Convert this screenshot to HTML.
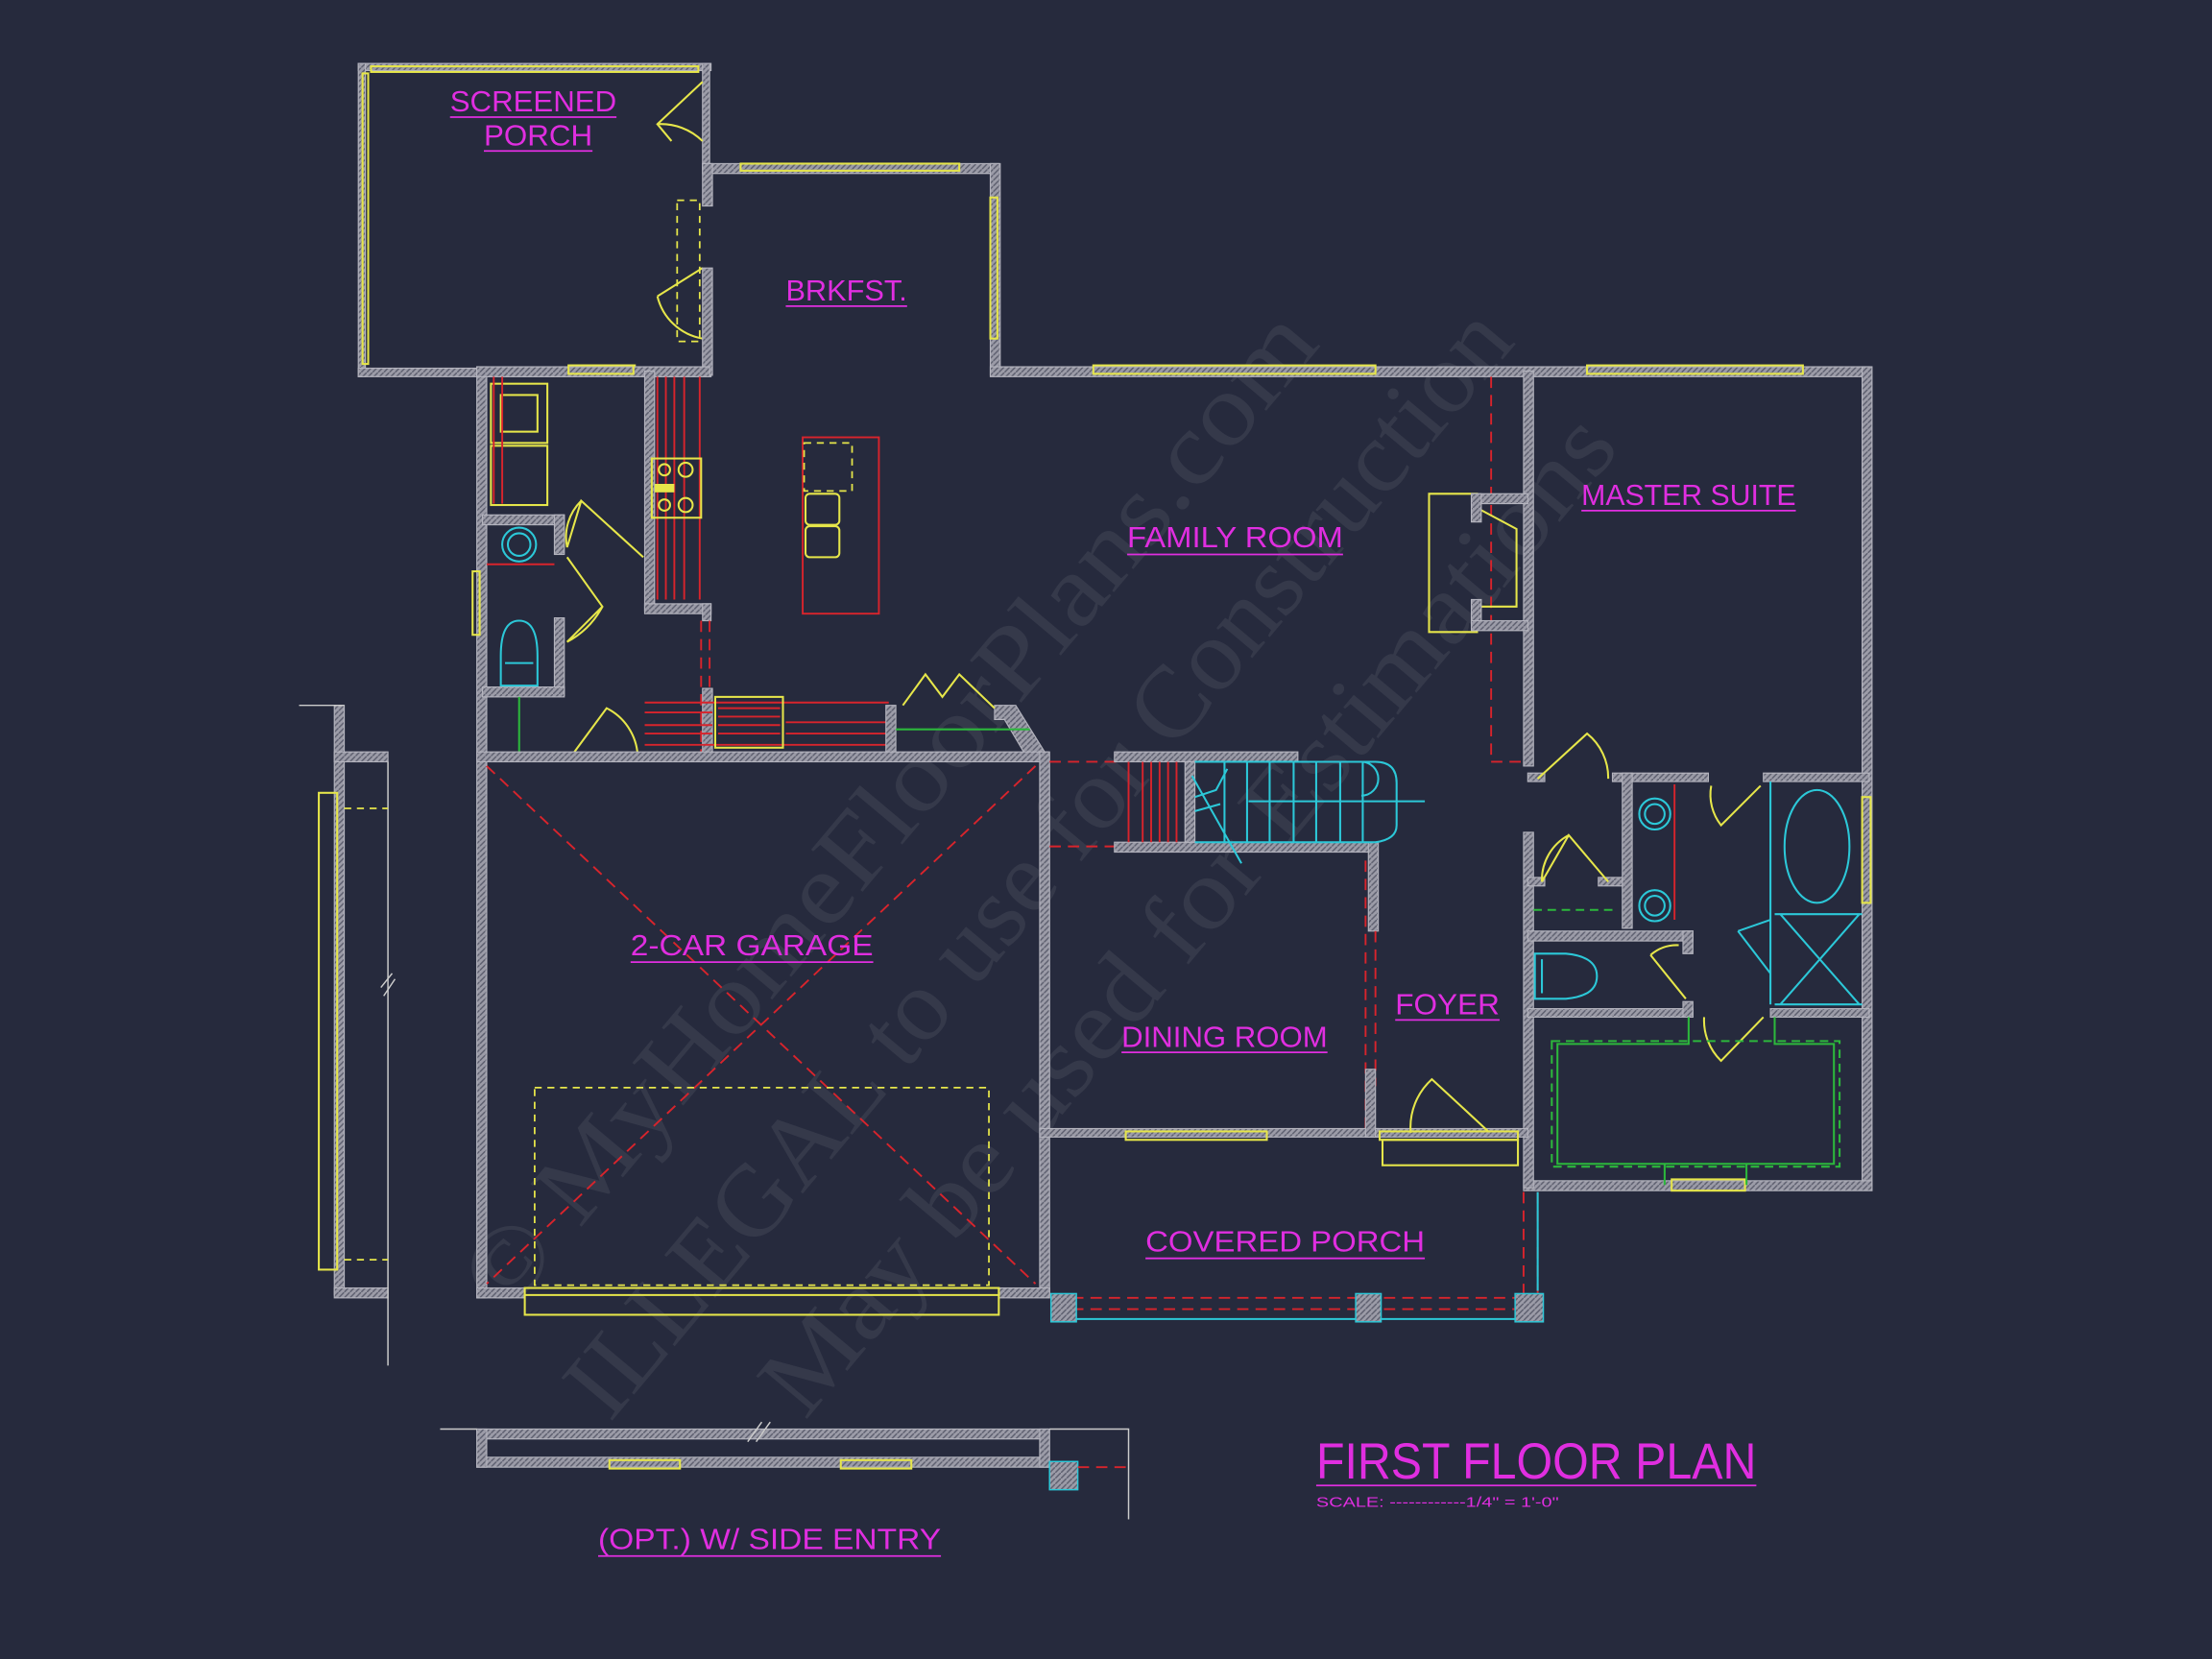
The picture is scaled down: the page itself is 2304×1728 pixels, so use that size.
<!DOCTYPE html>
<html><head><meta charset="utf-8"><style>
html,body{margin:0;padding:0;background:#262a3d;}
svg{display:block}
.w{fill:url(#h);stroke:#b4b4be;stroke-width:.8}
.y{fill:none;stroke:#e6e64a;stroke-width:1.4}
.r{fill:none;stroke:#d8242c;stroke-width:1.3}
.rd{fill:none;stroke:#d8242c;stroke-width:1.3;stroke-dasharray:8 5}
.c{fill:none;stroke:#2cc8d8;stroke-width:1.4}
.g{fill:none;stroke:#2cb83c;stroke-width:1.4}
.gd{fill:none;stroke:#2cb83c;stroke-width:1.4;stroke-dasharray:6 4}
.yd{fill:none;stroke:#e6e64a;stroke-width:1.2;stroke-dasharray:5 4}
.t{fill:#e02ee0;font-family:"Liberation Sans",sans-serif;font-size:21px}
.u{stroke:#e02ee0;stroke-width:1.2}
.wm{fill:#ffffff;fill-opacity:.07;font-family:"Liberation Serif",serif;font-size:72px}
</style></head><body>
<svg width="2304" height="1728" viewBox="0 0 1568 1176" xmlns="http://www.w3.org/2000/svg">
<defs>
<pattern id="h" width="4" height="4" patternUnits="userSpaceOnUse">
<rect width="4" height="4" fill="#9c9ca8"/><path d="M0 4L4 0" stroke="#5c5e6e" stroke-width="1"/>
</pattern>
</defs>
<rect width="1568" height="1176" fill="#262a3d"/>

<!-- watermark -->
<g transform="rotate(-50 700 620)">
<text class="wm" x="240" y="560" textLength="900" lengthAdjust="spacingAndGlyphs">© MyHomeFloorPlans.com</text>
<text class="wm" x="230" y="665" textLength="1000" lengthAdjust="spacingAndGlyphs">ILLEGAL to use for Construction</text>
<text class="wm" x="320" y="770" textLength="900" lengthAdjust="spacingAndGlyphs">May be used for Estimations</text>
</g>

<!-- screened porch -->
<rect class="w" x="254" y="45" width="250" height="5"/>
<rect class="w" x="254" y="45" width="5" height="222"/>
<rect class="w" x="254" y="261" width="250" height="6"/>
<rect class="w" x="498" y="45" width="5" height="75"/>
<rect class="y" x="257" y="52" width="4" height="206"/>
<rect class="y" x="263" y="47" width="232" height="4"/>
<rect class="y" x="404" y="259" width="46" height="4"/>
<path class="y" d="M498 58 L466 88 L476 100 M466 88 A42 42 0 0 1 498 100"/>
<path class="y" d="M498 190 L466 210 M466 210 A40 40 0 0 0 498 240"/>
<rect class="yd" x="480" y="142" width="16" height="100"/>

<!-- breakfast -->
<rect class="w" x="498" y="116" width="210" height="7"/>
<rect class="w" x="702" y="116" width="7" height="150"/>
<rect class="w" x="498" y="116" width="7" height="30"/>
<rect class="w" x="498" y="190" width="7" height="76"/>
<rect class="y" x="525" y="116" width="155" height="5"/>
<rect class="y" x="702" y="140" width="5" height="100"/>

<!-- main outer walls -->
<rect class="w" x="702" y="260" width="623" height="7"/>
<rect class="y" x="775" y="259" width="200" height="6"/>
<rect class="y" x="1125" y="259" width="153" height="6"/>
<rect class="w" x="1320" y="260" width="7" height="583"/>
<rect class="y" x="1320" y="565" width="6" height="75"/>
<rect class="w" x="1080" y="837" width="247" height="7"/>
<rect class="y" x="1185" y="836" width="52" height="8"/>
<rect class="w" x="1080" y="263" width="7" height="280"/>
<rect class="w" x="1080" y="590" width="7" height="252"/>
<rect class="w" x="338" y="260" width="7" height="660"/>
<rect class="w" x="338" y="260" width="165" height="7"/>
<rect class="y" x="403" y="259" width="46" height="6"/>
<rect class="y" x="335" y="405" width="5" height="45"/>

<!-- laundry / kitchen walls -->
<rect class="w" x="457" y="263" width="7" height="170"/>
<rect class="w" x="457" y="428" width="47" height="7"/>
<rect class="w" x="498" y="428" width="6" height="12"/>
<rect class="w" x="342" y="365" width="58" height="7"/>
<rect class="w" x="393" y="365" width="7" height="28"/>
<rect class="w" x="393" y="438" width="7" height="55"/>
<rect class="w" x="342" y="487" width="58" height="7"/>
<rect class="y" x="348" y="272" width="40" height="42"/><rect class="y" x="355" y="280" width="26" height="26"/>
<rect class="y" x="348" y="316" width="40" height="42"/>
<path class="r" d="M350 267V357 M356 267V357 M345 400H393"/>
<path class="r" d="M466 267V425 M472 267V425 M478 267V425 M485 267V425 M496 267V425"/>
<rect class="y" x="462" y="325" width="35" height="42" fill="#3a2a30"/>
<circle class="y" cx="471" cy="333" r="4"/><circle class="y" cx="486" cy="333" r="5"/>
<circle class="y" cx="471" cy="358" r="4"/><circle class="y" cx="486" cy="358" r="5"/>
<rect x="464" y="343" width="14" height="6" fill="#e6e64a"/>
<path class="y" d="M402 388 L412 355 L456 395 M402 388 A36 36 0 0 1 412 355"/>
<path class="y" d="M402 395 L427 430 L402 455 A60 60 0 0 0 427 430"/>
<circle class="c" cx="368" cy="386" r="12"/><circle class="c" cx="368" cy="386" r="8"/>
<path class="c" d="M355 486 V465 Q355 440 368 440 Q381 440 381 465 V486 Z M358 470 H378"/>
<path class="g" d="M368 494V535"/>

<!-- island -->
<rect class="r" x="569" y="310" width="54" height="125"/>
<rect class="yd" x="570" y="314" width="34" height="34"/>
<rect class="y" x="571" y="350" width="24" height="22" rx="3"/>
<rect class="y" x="571" y="373" width="24" height="22" rx="3"/>
<path class="rd" d="M497 440V535 M503 440V535"/>

<!-- kitchen bottom counter -->
<rect class="w" x="498" y="488" width="7" height="48"/>
<path class="r" d="M457 498H630 M457 528H630 M457 514H505 M457 520H505 M457 505H505 M557 512H630 M557 520H630"/>
<rect class="y" x="507" y="494" width="48" height="36" stroke-width="2.2"/>
<path class="r" d="M509 502H553 M509 508H553 M509 514H553 M509 520H553"/>
<rect class="w" x="628" y="500" width="7" height="37"/>
<path class="w" d="M705 500 L720 500 L743 537 L728 537 L712 510 L705 510Z"/>
<path class="y" d="M640 500 L656 478 L668 494 L680 478 L705 502"/>
<path class="g" d="M635 517H730"/>
<path class="y" d="M402 540 L430 502 A40 40 0 0 1 452 540"/>

<!-- garage -->
<rect class="w" x="338" y="533" width="405" height="7"/>
<rect class="w" x="737" y="533" width="7" height="385"/>
<rect class="w" x="338" y="913" width="34" height="7"/>
<rect class="w" x="708" y="913" width="36" height="7"/>
<rect class="y" x="372" y="913" width="336" height="19"/>
<path class="y" d="M372 918H708"/>
<path class="rd" d="M345 543 L734 910 M734 543 L345 910"/>
<rect class="yd" x="379" y="771" width="322" height="140"/>

<!-- stairs / family -->
<path class="rd" d="M744 540H795 M744 600H795 M1057 267V540H1080"/>
<rect class="w" x="790" y="533" width="130" height="7"/>
<rect class="w" x="790" y="597" width="185" height="7"/>
<rect class="w" x="970" y="597" width="7" height="63"/>
<path class="r" d="M800 540V597 M810 540V597 M816 540V597 M822 540V597 M828 540V597 M834 540V597"/>
<rect class="w" x="840" y="540" width="7" height="57"/>
<path class="c" d="M847 540H975 M847 597H975 M868 540V597 M884 540V597 M900 540V597 M917 540V597 M933 540V597 M950 540V597 M966 540V597 M885 568H1010 M845 550 L880 612 M965 540 A12 12 0 0 1 965 564 M975 540 Q990 540 990 555 V585 Q990 595 975 597"/>
<path class="c" d="M847 565 L862 560 L870 545 M847 575 L865 570"/>
<path class="rd" d="M968 610V800 M975 660V770"/>

<!-- fireplace -->
<path class="y" d="M1013 350H1047 V360 L1075 375 V430 H1047 V448 H1013 Z"/>
<rect class="w" x="1043" y="350" width="40" height="7"/>
<rect class="w" x="1043" y="350" width="7" height="20"/>
<rect class="w" x="1043" y="425" width="7" height="18"/>
<rect class="w" x="1043" y="440" width="40" height="7"/>

<!-- dining/foyer -->
<rect class="w" x="737" y="800" width="240" height="6"/>
<rect class="y" x="798" y="802" width="100" height="6"/>
<rect class="w" x="968" y="758" width="7" height="48"/>
<rect class="w" x="975" y="800" width="108" height="6"/>
<rect class="y" x="978" y="802" width="98" height="6"/>
<rect class="y" x="980" y="808" width="96" height="18"/>
<path class="y" d="M1000 803 A46 46 0 0 1 1015 765 L1055 802"/>

<!-- master bath walls -->
<rect class="w" x="1083" y="548" width="12" height="6"/>
<rect class="w" x="1143" y="548" width="68" height="6"/>
<rect class="w" x="1250" y="548" width="75" height="6"/>
<rect class="w" x="1150" y="548" width="7" height="110"/>
<rect class="w" x="1083" y="660" width="117" height="7"/>
<rect class="w" x="1193" y="660" width="7" height="16"/>
<rect class="w" x="1083" y="622" width="12" height="6"/>
<rect class="w" x="1133" y="622" width="17" height="6"/>
<rect class="w" x="1083" y="715" width="117" height="6"/>
<rect class="w" x="1193" y="710" width="7" height="11"/>
<rect class="w" x="1255" y="715" width="70" height="6"/>
<path class="y" d="M1090 552 L1125 520 A40 40 0 0 1 1140 552"/>
<path class="y" d="M1093 625 L1112 592 L1140 625 M1093 625 A36 36 0 0 1 1112 592"/>
<path class="y" d="M1213 557 A35 35 0 0 0 1220 585 L1248 557"/>
<path class="y" d="M1170 677 A28 28 0 0 1 1190 670 M1170 677 L1195 708"/>
<path class="y" d="M1208 721 A40 40 0 0 0 1220 752 L1250 721"/>
<path class="r" d="M1187 556V652"/>
<circle class="c" cx="1173" cy="577" r="11"/><circle class="c" cx="1173" cy="577" r="7"/>
<circle class="c" cx="1173" cy="642" r="11"/><circle class="c" cx="1173" cy="642" r="7"/>
<path class="c" d="M1088 676 H1110 Q1132 678 1132 692 Q1132 706 1110 708 H1088 Z M1093 680V704"/>
<ellipse class="c" cx="1288" cy="600" rx="23" ry="40"/>
<path class="c" d="M1255 554V712 M1258 648H1320 M1258 712H1320 M1262 648L1318 712 M1318 648L1262 712 M1232 660 L1255 652 M1232 660 L1255 690"/>
<path class="gd" d="M1087 645H1145"/>
<path class="g" d="M1197 721V740H1104V825H1300V740H1258V721 M1180 825V840 M1238 825V840"/>
<rect class="gd" x="1100" y="738" width="204" height="89"/>

<!-- covered porch -->
<path class="rd" d="M760 920H1080 M760 928H1080 M1080 845V920 M1090 845V920"/>
<path class="c" d="M760 935H1090 M1090 845V915"/>
<rect x="745" y="917" width="18" height="20" fill="url(#h)" stroke="#2cc8d8"/>
<rect x="961" y="917" width="18" height="20" fill="url(#h)" stroke="#2cc8d8"/>
<rect x="1074" y="917" width="20" height="20" fill="url(#h)" stroke="#2cc8d8"/>

<!-- optional side entry (left) -->
<rect class="w" x="237" y="500" width="7" height="418"/>
<rect class="w" x="237" y="533" width="38" height="7"/>
<rect class="w" x="237" y="913" width="38" height="7"/>
<path d="M212 500H244 M275 540V968" stroke="#ccc" stroke-width="1" fill="none"/>
<rect class="y" x="226" y="562" width="13" height="338"/>
<path class="yd" d="M244 573H275 M244 893H275"/>
<path d="M270 700L278 690 M272 706L280 694" stroke="#ccc" fill="none"/>
<!-- optional bottom -->
<rect class="w" x="338" y="1013" width="405" height="7"/>
<rect class="w" x="338" y="1033" width="405" height="7"/>
<rect class="w" x="338" y="1013" width="7" height="27"/>
<rect class="w" x="737" y="1013" width="7" height="27"/>
<rect class="y" x="432" y="1035" width="50" height="6"/>
<rect class="y" x="596" y="1035" width="50" height="6"/>
<path d="M312 1013H338 M744 1013H800V1077" stroke="#ccc" stroke-width="1" fill="none"/>
<path d="M530 1022L540 1008 M536 1022L546 1008" stroke="#ccc" fill="none"/>
<rect x="744" y="1036" width="20" height="20" fill="url(#h)" stroke="#2cc8d8"/>
<path class="rd" d="M764 1040H800"/>

<!-- labels -->
<g lengthAdjust="spacingAndGlyphs">
<text class="t" x="319" y="79" textLength="118" lengthAdjust="spacingAndGlyphs">SCREENED</text><line class="u" x1="319" y1="83" x2="437" y2="83"/>
<text class="t" x="343" y="103" textLength="77" lengthAdjust="spacingAndGlyphs">PORCH</text><line class="u" x1="343" y1="107" x2="420" y2="107"/>
<text class="t" x="557" y="213" textLength="86" lengthAdjust="spacingAndGlyphs">BRKFST.</text><line class="u" x1="557" y1="217" x2="643" y2="217"/>
<text class="t" x="799" y="388" textLength="153" lengthAdjust="spacingAndGlyphs">FAMILY ROOM</text><line class="u" x1="799" y1="393" x2="952" y2="393"/>
<text class="t" x="1121" y="358" textLength="152" lengthAdjust="spacingAndGlyphs">MASTER SUITE</text><line class="u" x1="1121" y1="362" x2="1273" y2="362"/>
<text class="t" x="447" y="677" textLength="172" lengthAdjust="spacingAndGlyphs">2-CAR GARAGE</text><line class="u" x1="447" y1="682" x2="619" y2="682"/>
<text class="t" x="795" y="742" textLength="146" lengthAdjust="spacingAndGlyphs">DINING ROOM</text><line class="u" x1="795" y1="746" x2="941" y2="746"/>
<text class="t" x="989" y="719" textLength="74" lengthAdjust="spacingAndGlyphs">FOYER</text><line class="u" x1="989" y1="723" x2="1063" y2="723"/>
<text class="t" x="812" y="887" textLength="198" lengthAdjust="spacingAndGlyphs">COVERED PORCH</text><line class="u" x1="812" y1="892" x2="1010" y2="892"/>
<text class="t" x="424" y="1098" textLength="243" lengthAdjust="spacingAndGlyphs">(OPT.) W/ SIDE ENTRY</text><line class="u" x1="424" y1="1103" x2="667" y2="1103"/>
<text class="t" x="933" y="1048" style="font-size:36px" textLength="312" lengthAdjust="spacingAndGlyphs">FIRST FLOOR PLAN</text>
<line class="u" x1="933" y1="1053" x2="1245" y2="1053"/>
<text class="t" x="933" y="1068" style="font-size:10px" textLength="172" lengthAdjust="spacingAndGlyphs">SCALE: ------------1/4" = 1'-0"</text>
</g>
</svg>
</body></html>
